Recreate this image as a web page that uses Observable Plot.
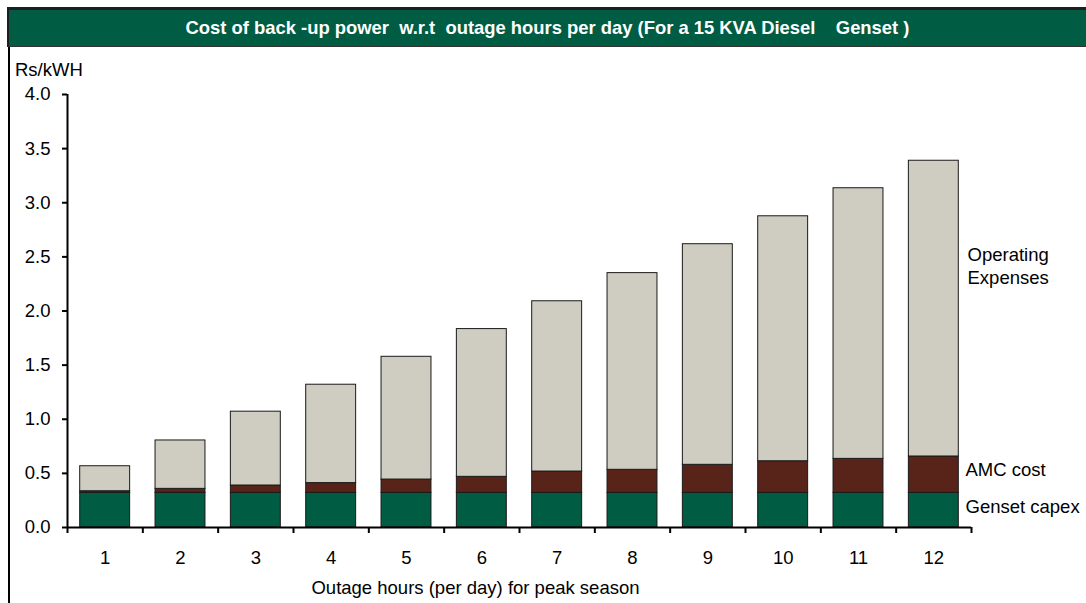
<!DOCTYPE html>
<html>
<head>
<meta charset="utf-8">
<script src="https://cdn.jsdelivr.net/npm/d3@7"></script>
<script src="https://cdn.jsdelivr.net/npm/@observablehq/plot@0.6"></script>
<style>
  html, body { margin: 0; padding: 0; background: #fff; }
  body { width: 1086px; height: 603px; position: relative; overflow: hidden;
         font-family: "Liberation Sans", Arial, sans-serif; }
  #title { position: absolute; left: 7px; top: 7px; width: 1077px; height: 36px;
           background: #005c42; border-top: 3px solid #1e1e1e; border-bottom: 1px solid #333;
           border-left: 2px solid #1e1e1e;
           color: #fff; font-weight: bold; font-size: 18.4px; line-height: 36px;
           text-align: center; white-space: pre; }
  #leftline { position: absolute; left: 8px; top: 47px; width: 2px; height: 556px; background: #000; }
  #ylabel { position: absolute; left: 15px; top: 59px; font-size: 18.5px; color: #000; }
</style>
</head>
<body>
<div id="title"></div>
<div id="leftline"></div>
<div id="ylabel"></div>
<div id="chart"></div>
<script>
const titleText = "Cost of back -up power  w.r.t  outage hours per day (For a 15 KVA Diesel    Genset )";
const yUnit = "Rs/kWH";
const xTitle = "Outage hours (per day) for peak season";

const hours = [1, 2, 3, 4, 5, 6, 7, 8, 9, 10, 11, 12];
const gensetCapex = [0.32, 0.32, 0.32, 0.32, 0.32, 0.32, 0.32, 0.32, 0.32, 0.32, 0.32, 0.32];
const amcCost     = [0.015, 0.037, 0.068, 0.09, 0.123, 0.148, 0.197, 0.213, 0.259, 0.292, 0.314, 0.336];
const operatingExpenses = [0.231, 0.447, 0.682, 0.909, 1.134, 1.365, 1.573, 1.817, 2.038, 2.263, 2.5, 2.732];
const seriesNames = ["Genset capex", "AMC cost", "Operating Expenses"];
const seriesColors = ["#005c42", "#58241a", "#cfcdc1"];
const yTicks = [0, 0.5, 1, 1.5, 2, 2.5, 3, 3.5, 4];

document.getElementById("title").textContent = titleText;
document.getElementById("ylabel").textContent = yUnit;

const rows = [];
hours.forEach((h, i) => {
  const vals = [gensetCapex[i], amcCost[i], operatingExpenses[i]];
  let base = 0;
  vals.forEach((v, k) => {
    rows.push({hour: h, series: seriesNames[k], y1: base, y2: base + v});
    base += v;
  });
});
const boundaries = hours.map(h => h - 0.5).concat([hours[hours.length - 1] + 0.5]);
const xEnd = boundaries[boundaries.length - 1];
const fs = 18.5;

const chart = Plot.plot({
  width: 1086,
  height: 556,
  marginTop: 47,
  marginBottom: 76,
  marginLeft: 67,
  marginRight: 115,
  style: {position: "absolute", left: "0px", top: "47px", fontFamily: '"Liberation Sans", Arial, sans-serif',
          fontSize: fs + "px", color: "#000", background: "transparent", overflow: "visible"},
  x: {type: "linear", domain: [boundaries[0], xEnd]},
  y: {domain: [0, 4]},
  color: {domain: seriesNames, range: seriesColors},
  marks: [
    Plot.rect(rows, {x1: d => d.hour - 0.5, x2: d => d.hour + 0.5, y1: "y1", y2: "y2",
                     fill: "series", stroke: "#1a1a1a", strokeWidth: 1, insetLeft: 12.7, insetRight: 12.7}),
    Plot.axisY({ticks: yTicks, tickFormat: d3.format(".1f"), tickSize: 5, tickPadding: 12,
                strokeWidth: 2, label: null, fill: "#000"}),
    Plot.axisX({ticks: boundaries, tickSize: 6, tickFormat: () => "", strokeWidth: 2, label: null}),
    Plot.axisX({ticks: hours, tickSize: 0, tickPadding: 23, tickFormat: d => String(d), label: null, fill: "#000"}),
    Plot.ruleX([boundaries[0]], {y1: 0, y2: 4, stroke: "#000", strokeWidth: 2}),
    Plot.ruleY([0], {stroke: "#000", strokeWidth: 2}),
    Plot.text([xTitle], {frameAnchor: "bottom", dx: -44, dy: 61, lineAnchor: "middle", fontSize: fs, fill: "#000"}),
    Plot.text([seriesNames[0]], {x: xEnd, y: 0.185, dx: -6, textAnchor: "start", fontSize: fs, fill: "#000"}),
    Plot.text([seriesNames[1]], {x: xEnd, y: 0.527, dx: -6, textAnchor: "start", fontSize: fs, fill: "#000"}),
    Plot.text(["Operating\nExpenses"], {x: xEnd, y: 2.425, dx: -4, textAnchor: "start",
                fontSize: fs, lineHeight: 1.25, fill: "#000"})
  ]
});
document.getElementById("chart").appendChild(chart);
</script>
</body>
</html>
